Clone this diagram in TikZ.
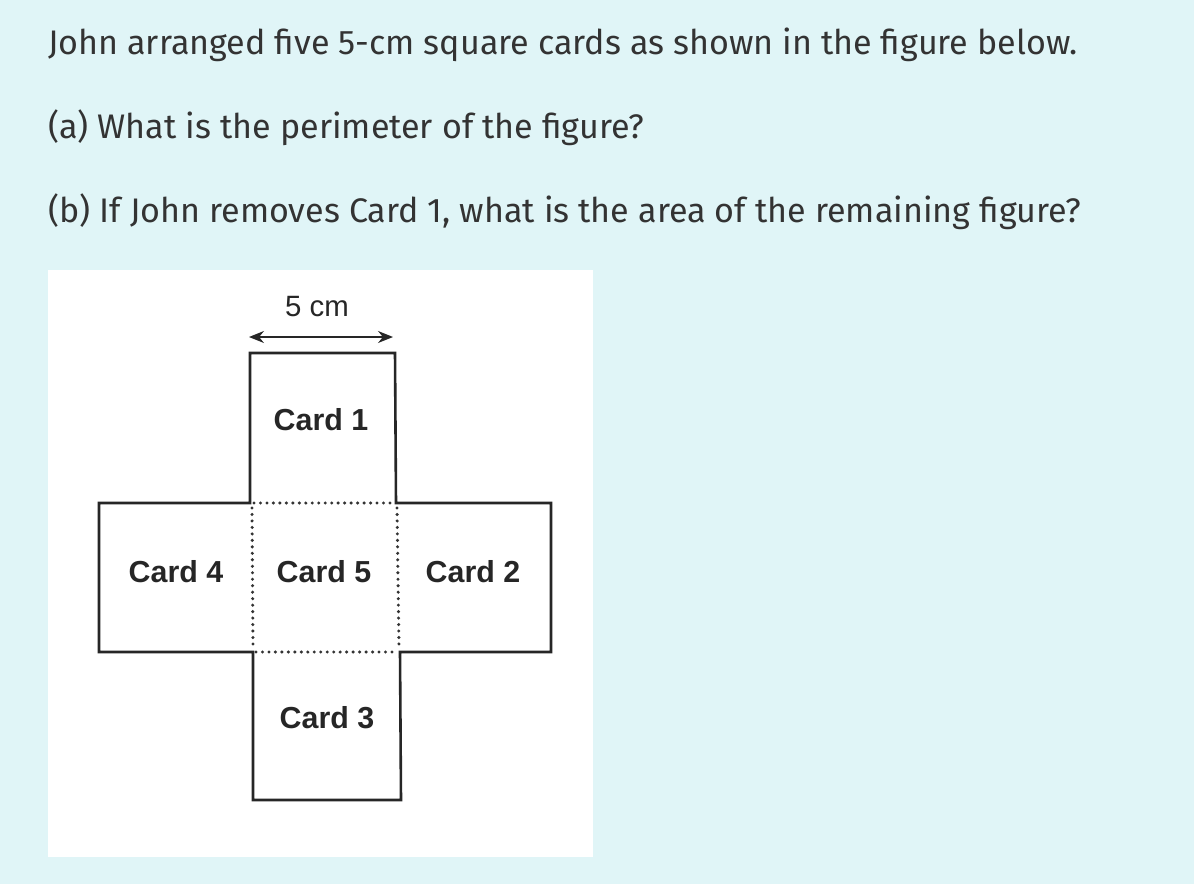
\documentclass[tikz,border=0pt]{standalone}
\usepackage{fontspec}
\setmainfont{Fira Sans}
\newfontfamily\cardfont{Liberation Sans}
\usetikzlibrary{positioning,arrows.meta}
\definecolor{pagebg}{HTML}{E0F5F7}
\definecolor{qtext}{HTML}{333333}

\begin{document}
\begin{tikzpicture}[x=1bp, y=-1bp,
  question/.style={anchor=base west, inner sep=0pt, text=qtext, font=\fontsize{34.2}{40}\selectfont},
  card/.style={text=black!85, font=\cardfont\bfseries\fontsize{30.5}{34}\selectfont},
  edge/.style={line width=2.6pt, black!85, line join=miter},
  fold/.style={line width=3.4pt, black!80, line cap=round, dash pattern=on 0pt off 6.5pt}]
  \fill[pagebg] (0,0) rectangle (1194,884);
  \useasboundingbox (0,0) rectangle (1194,884);
  \fill[white] (48,270) rectangle (593,857);

  \node[question] (intro) at (48,54) {John arranged five 5-cm square cards as shown in the figure below.};
  \node[question] (parta) at (48,138) {(a) What is the perimeter of the figure?};
  \node[question] (partb) at (48,222) {(b) If John removes Card 1, what is the area of the remaining figure?};

  % outline of the cross
  \draw[edge] (250,353) -- (395,353) -- (396,503) -- (551,503) -- (551,652)
    -- (400,652) -- (401,800) -- (253,800) -- (253,652) -- (99,652) -- (99,503)
    -- (250,503) -- cycle;
  % folds round card 5
  \draw[fold] (254,503) -- (394,503);
  \draw[fold] (256,652) -- (398,652);
  \draw[fold] (252,508) -- (253,648);
  \draw[fold] (397,508) -- (399,648);

  \coordinate (wl) at (249,337);
  \coordinate (wr) at (393,337);
  \draw[line width=1.6pt, black!85, {Stealth[length=15pt,width=12pt]}-{Stealth[length=15pt,width=12pt]}] (wl) -- (wr);
  \node[text=black!85, font=\cardfont\fontsize{29.5}{33}\selectfont] (width) at (317,307) {5 cm};

  \node[card] (card1) at (321,420) {Card 1};
  \node[card] (card5) at (324,572) {Card 5};
  \node[card] (card4) at (176,572) {Card 4};
  \node[card] (card2) at (473,572) {Card 2};
  \node[card] (card3) at (327,718) {Card 3};
\end{tikzpicture}
\end{document}
